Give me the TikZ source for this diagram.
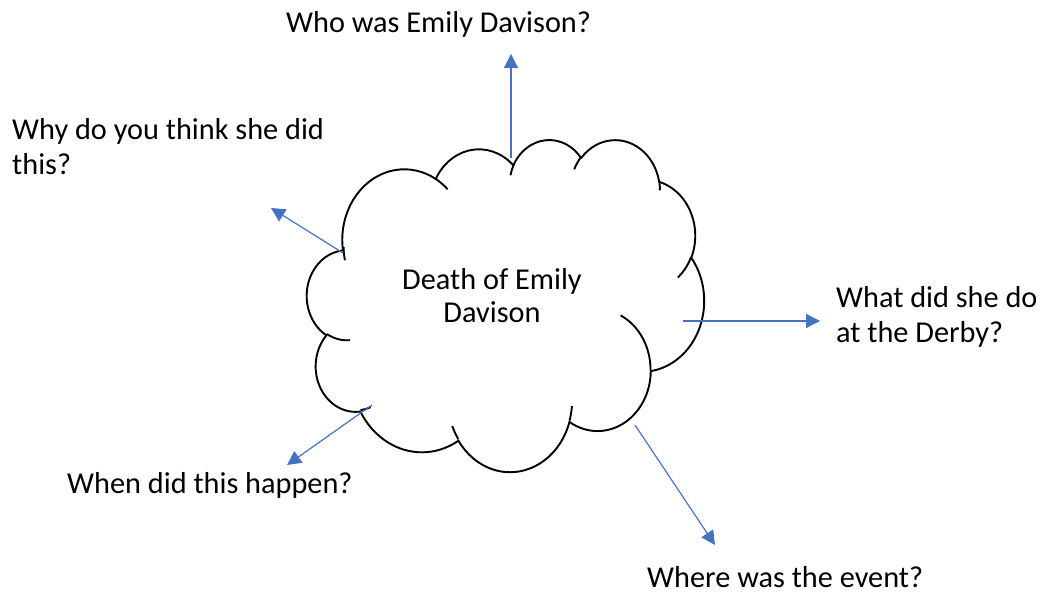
\documentclass[tikz,border=0pt]{standalone}
\usepackage{fontspec}
\setmainfont{Carlito}
\usetikzlibrary{arrows.meta}
\definecolor{arrowblue}{HTML}{4472C4}
% convert an OOXML visual angle to the parametric ellipse angle
\pgfmathdeclarefunction{vp}{3}{%
  \begingroup
  \pgfmathparse{atan2((#2)*sin(#1),(#3)*cos(#1))}%
  \let\tz\pgfmathresult
  \pgfmathparse{\tz+360*round(((#1)-\tz)/360)}%
  \pgfmathsmuggle\pgfmathresult
  \endgroup}
\tikzset{
  cloudline/.style={draw=black,line width=1.9pt,line join=round},
  arr/.style={draw=arrowblue,line width=1.2pt,-{Triangle[length=14pt,width=14pt]}},
  lbl/.style={inner sep=0pt,font=\fontsize{30.3}{35}\selectfont,text=black},
  oa/.style n args={4}{x radius=#1,y radius=#2,start angle={vp(#3,#1,#2)},end angle={vp((#3)+(#4),#1,#2)}}
}
\begin{document}
\begin{tikzpicture}[x=1pt,y=-1pt]
\useasboundingbox[fill=white] (0,0) rectangle (1044,593);
\begin{scope}[shift={(307,139)},x=0.919pt,y=-0.7685pt]
\draw[cloudline,fill=white] (39,143.70)
  arc[oa={67.53}{91.90}{-190.4875}{123.7805}]
  arc[oa={53.33}{72.67}{-144.1024}{89.9452}]
  arc[oa={43.65}{59.45}{-145.8079}{99.7230}]
  arc[oa={48.57}{65.95}{-130.9861}{117.2417}]
  arc[oa={53.33}{72.73}{-78.7089}{109.0269}]
  arc[oa={67.75}{92.20}{-46.2673}{130.2690}]
  arc[oa={57.85}{78.67}{0.6250}{114.0333}]
  arc[oa={67.52}{92.15}{22.4516}{115.1726}]
  arc[oa={77.20}{105.43}{66.2426}{75.7110}]
  arc[oa={43.60}{59.18}{-274.9421}{146.7356}]
  arc[oa={43.45}{59.45}{-246.8285}{152.5189}]
  -- cycle;
\draw[cloudline] (46.93,261.77) arc[oa={43.45}{59.45}{86.7420}{26.4295}];
\draw[cloudline] (69.28,348.99) arc[oa={43.60}{59.18}{73.6105}{11.4475}];
\draw[cloudline] (164.78,390.90) arc[oa={67.52}{92.15}{137.6242}{14.0811}];
\draw[cloudline] (288.27,347.51) arc[oa={67.52}{92.15}{6.4533}{15.9984}];
\draw[cloudline] (341.29,229.54) arc[oa={57.85}{78.67}{-70.2924}{70.9174}];
\draw[cloudline] (417.98,153.54) arc[oa={53.33}{72.73}{30.3180}{27.7515}];
\draw[cloudline] (383.24,54.26) arc[oa={48.57}{65.95}{-13.7443}{14.8589}];
\draw[cloudline] (290.78,39.52) arc[oa={48.57}{65.95}{-149.1815}{18.1954}];
\draw[cloudline] (221.41,47.20) arc[oa={43.65}{59.45}{-163.4943}{17.6864}];
\draw[cloudline] (140.00,51.92) arc[oa={67.53}{91.90}{-66.7070}{12.3194}];
\draw[cloudline] (41.27,157.89) arc[oa={67.53}{91.90}{163.7699}{14.3794}];
\end{scope}
% centre text
\node[lbl,anchor=base] (c1) at (492,290) {Death of Emily};
\node[lbl,anchor=base] (c2) at (492,323) {Davison};
% question labels
\node[lbl,anchor=base west] (q1) at (286,33) {Who was Emily Davison?};
\node[lbl,anchor=base west] (q2a) at (12,140) {Why do you think she did};
\node[lbl,anchor=base west] (q2b) at (12,175) {this?};
\node[lbl,anchor=base west] (q3a) at (836,308) {What did she do};
\node[lbl,anchor=base west] (q3b) at (836,343) {at the Derby?};
\node[lbl,anchor=base west] (q4) at (67,493) {When did this happen?};
\node[lbl,anchor=base west,text depth=0pt] (q5) at (647,587) {Where was the event?};
% connectors
\coordinate (s1) at (511,158); \coordinate (t1) at (511,54);
\coordinate (s2) at (343,253); \coordinate (t2) at (271,208);
\coordinate (s3) at (683,321); \coordinate (t3) at (820,321);
\coordinate (s4) at (372,405); \coordinate (t4) at (287,465);
\coordinate (s5) at (635,425); \coordinate (t5) at (715,545);
\draw[arr] (s1) -- (t1);
\draw[arr] (s2) -- (t2);
\draw[arr] (s3) -- (t3);
\draw[arr] (s4) -- (t4);
\draw[arr] (s5) -- (t5);
\end{tikzpicture}
\end{document}
